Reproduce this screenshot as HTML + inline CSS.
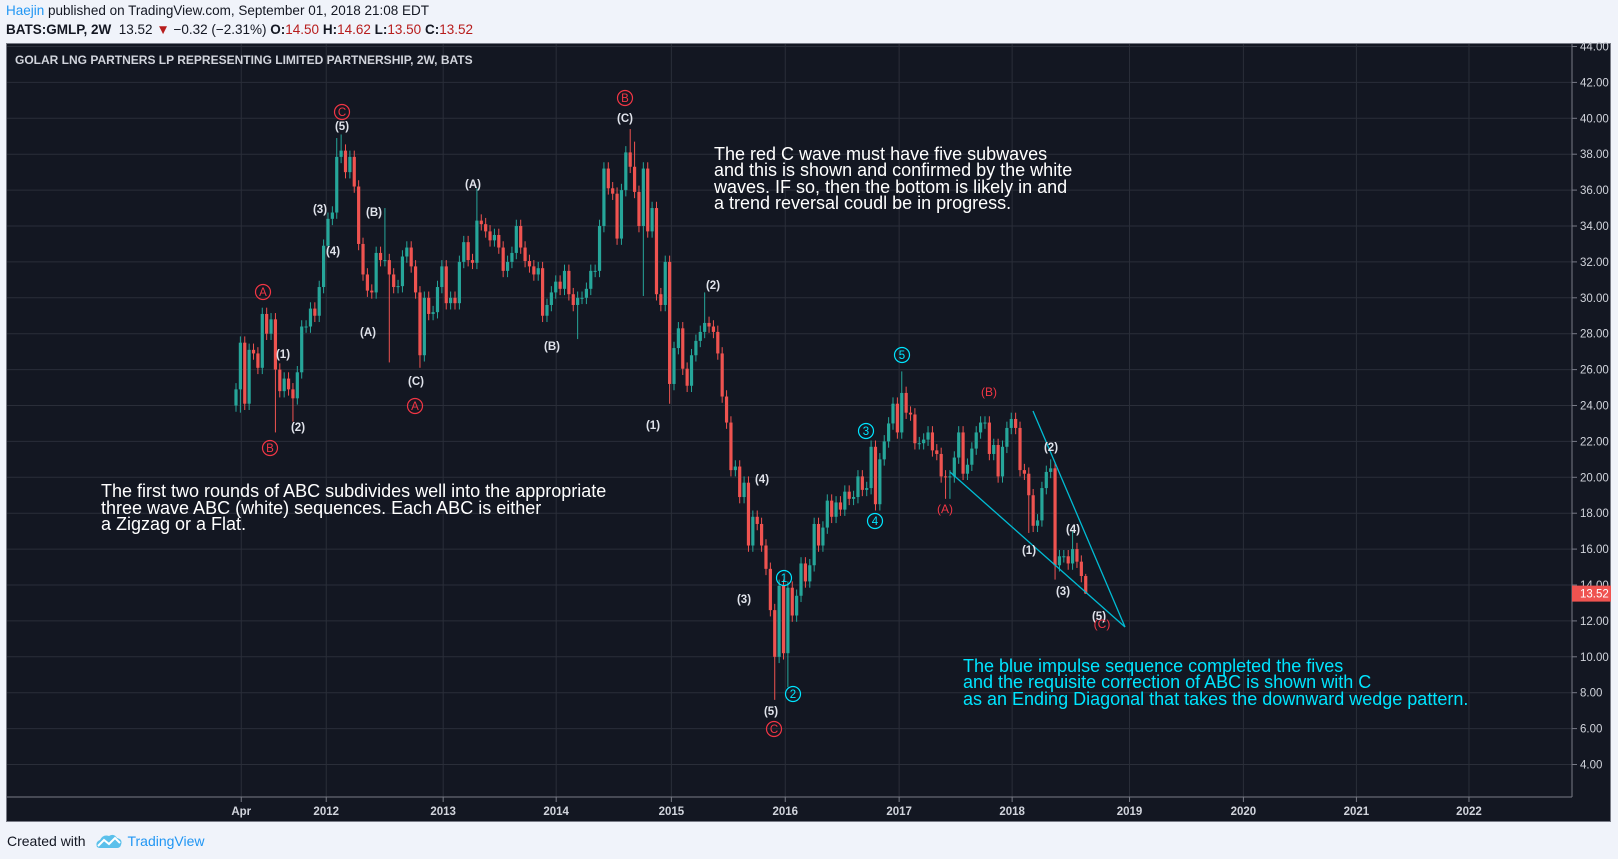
<!DOCTYPE html>
<html><head><meta charset="utf-8">
<style>
html,body{margin:0;padding:0;width:1618px;height:859px;background:#f0f3fa;overflow:hidden;font-family:"Liberation Sans",sans-serif;}
#hdr1{position:absolute;left:6px;top:3px;font-size:13.5px;color:#131722;}
#hdr2{position:absolute;left:6px;top:22px;font-size:13.5px;color:#131722;}
.r{color:#b71c1c}
#frame{position:absolute;left:6px;top:43px;width:1605px;height:779px;background:#131722;border:1px solid #787b86;box-sizing:border-box;}
#foot{position:absolute;left:7px;top:833px;font-size:14px;color:#131722;}
</style></head><body>
<div id="hdr1"><span style="color:#2196f3">Haejin</span> published on TradingView.com, September 01, 2018 21:08 EDT</div>
<div id="hdr2"><b>BATS:GMLP, 2W</b>&nbsp; 13.52 <span class="r">▼</span> −0.32 (−2.31%) <b>O:</b><span class="r">14.50</span> <b>H:</b><span class="r">14.62</span> <b>L:</b><span class="r">13.50</span> <b>C:</b><span class="r">13.52</span></div>
<div id="frame"></div>
<svg id="chart" width="1618" height="859" style="position:absolute;left:0;top:0" xmlns="http://www.w3.org/2000/svg">
<g id="grid"></g>
<line x1="1572" y1="44" x2="1572" y2="797" stroke="#787b86"/>
<line x1="7" y1="797" x2="1572" y2="797" stroke="#787b86"/>
<g id="candles"></g>
<g id="axes" font-family="Liberation Sans, sans-serif" font-size="11.5" fill="#d1d4dc"></g>
<text x="15" y="64" font-size="12" font-weight="bold" fill="#d1d4dc" font-family="Liberation Sans, sans-serif">GOLAR LNG PARTNERS LP REPRESENTING LIMITED PARTNERSHIP, 2W, BATS</text>
<g stroke="#00bcd4" stroke-width="1.3">
<line x1="1033" y1="411" x2="1125" y2="627"/>
<line x1="950" y1="472" x2="1125" y2="627"/>
</g>
<g font-family="Liberation Sans, sans-serif" font-size="11.5" font-weight="bold" fill="#e0e3eb" text-anchor="middle">
<text x="342" y="130">(5)</text><text x="320" y="213">(3)</text><text x="333" y="255">(4)</text>
<text x="374" y="216">(B)</text><text x="368" y="336">(A)</text><text x="416" y="385">(C)</text>
<text x="473" y="188">(A)</text><text x="552" y="350">(B)</text><text x="625" y="122">(C)</text>
<text x="283" y="358">(1)</text><text x="298" y="431">(2)</text>
<text x="653" y="429">(1)</text><text x="713" y="289">(2)</text><text x="762" y="483">(4)</text>
<text x="744" y="603">(3)</text><text x="771" y="715">(5)</text>
<text x="1051" y="451">(2)</text><text x="1029" y="554">(1)</text><text x="1073" y="533">(4)</text>
<text x="1063" y="595">(3)</text><text x="1099" y="620">(5)</text>
</g>
<g font-family="Liberation Sans, sans-serif" font-size="12" text-anchor="middle" fill="#f23645">
<text x="989" y="396">(B)</text><text x="945" y="513">(A)</text><text x="1102" y="628">(C)</text>
</g>
<g font-family="Liberation Sans, sans-serif" font-size="11.5" text-anchor="middle" fill="none" stroke-width="1.2" id="circles"></g>
<g font-family="Liberation Sans, sans-serif" font-size="18" fill="#ffffff">
<text x="714" y="160">The red C wave must have five subwaves</text>
<text x="714" y="176">and this is shown and confirmed by the white</text>
<text x="714" y="193">waves. IF so, then the bottom is likely in and</text>
<text x="714" y="209">a trend reversal coudl be in progress.</text>
</g>
<g font-family="Liberation Sans, sans-serif" font-size="18" fill="#ffffff">
<text x="101" y="497">The first two rounds of ABC subdivides well into the appropriate</text>
<text x="101" y="514">three wave ABC (white) sequences. Each ABC is either</text>
<text x="101" y="530">a Zigzag or a Flat.</text>
</g>
<g font-family="Liberation Sans, sans-serif" font-size="18" fill="#00e5ff">
<text x="963" y="672">The blue impulse sequence completed the fives</text>
<text x="963" y="688">and the requisite correction of ABC is shown with C</text>
<text x="963" y="705">as an Ending Diagonal that takes the downward wedge pattern.</text>
</g>
</svg>
<div id="foot">Created with <svg width="28" height="16" viewBox="0 0 28 16" style="vertical-align:-3px;margin:0 4px 0 6px"><path d="M2 14 Q0 9 5 7 Q8 1 14 3 Q19 0 22 5 Q28 6 26 12 Q25 15 22 15 L4 15Z" fill="#5bc0eb"/><path d="M3 13 L9 7 L14 11 L20 5 L25 10" stroke="#fff" stroke-width="2" fill="none"/></svg><span style="color:#2196f3">TradingView</span></div>
<script>
const closes=[24.9,27.5,24.1,27.1,26.9,26.1,29.1,28.0,28.8,26.0,24.8,25.5,24.9,24.4,25.85,28.4,28.4,29.4,29.0,30.6,
32.9,34.4,34.75,37.85,38.2,37.0,37.85,36.2,33.0,31.3,30.4,30.3,32.5,32.1,32.1,31.3,30.6,30.65,32.3,32.8,
31.75,30.3,26.8,30.0,29.1,29.2,30.6,31.75,29.7,30.0,29.7,32.0,33.1,32.1,31.95,34.3,34.1,33.7,33.2,33.5,
32.8,31.5,32.0,32.5,34.0,32.8,32.05,31.75,31.3,31.65,29.0,29.6,30.3,30.9,30.5,31.5,30.2,29.6,30.0,30.0,
30.5,31.5,31.5,34.0,37.2,36.1,35.8,33.3,36.0,38.1,37.3,35.9,34.0,37.2,33.7,35.0,30.2,29.6,32.0,25.2,
27.2,28.3,26.05,25.1,26.8,27.6,28.1,28.6,28.4,28.1,26.9,24.5,23.05,20.4,20.6,18.9,19.7,16.2,17.8,17.4,
16.2,14.9,12.6,10.0,13.95,10.2,13.85,12.3,13.4,15.2,14.2,15.1,17.4,16.2,17.2,18.7,17.8,18.6,18.2,19.2,
18.8,18.9,20.05,19.3,19.4,21.7,18.5,21.0,22.0,23.0,24.1,22.5,24.7,23.6,23.5,21.9,21.9,22.1,22.5,21.5,
21.3,20.05,20.0,20.05,21.1,22.5,20.2,20.7,21.6,22.5,23.05,23.05,21.3,21.8,20.05,21.7,22.75,23.25,22.75,20.4,
20.2,19.0,17.3,17.6,19.4,20.3,20.5,15.1,15.6,15.6,15.2,16.0,15.3,14.5,13.52];
const firstOpen=24.0;
const highs={23:38.9,24:39.1,34:35.0,55:36.1,90:39.4,91:38.7,107:30.3,152:25.9,186:21.0,191:17.0,194:14.62};
const lows={1:23.6,9:22.5,13:23.1,35:26.4,42:26.1,78:27.7,93:30.1,99:24.1,123:7.6,126:8.3,162:18.8,163:18.8,181:16.9,187:14.3,194:13.5};
const priceTicks=[44,42,40,38,36,34,32,30,28,26,24,22,20,18,16,14,12,10,8,6,4];
const timeLabels=["Apr","2012","2013","2014","2015","2016","2017","2018","2019","2020","2021","2022"];
const timeIdx=[1.2,20.6,47.3,73.1,99.4,125.4,151.4,177.2,204,230,255.8,281.5];
const lastPrice=13.52;
function yS(p){return 118.3+(40-p)*17.95;}
function xS(i){return 236+i*4.38;}
const NS="http://www.w3.org/2000/svg";
function mk(t,a){const e=document.createElementNS(NS,t);for(const k in a)e.setAttribute(k,a[k]);return e;}
const grid=document.getElementById('grid'),axes=document.getElementById('axes'),cg=document.getElementById('candles');
priceTicks.forEach(p=>{
 const l=mk('line',{x1:7,x2:1572,y1:yS(p),y2:yS(p),stroke:'#2a2e39'});
 
 
 grid.appendChild(l);
 const tk=mk('line',{x1:1572,x2:1577,y1:yS(p),y2:yS(p),stroke:'#787b86'});
 
 
 axes.appendChild(tk);
 const t=mk('text',{x:1580,y:yS(p)+4});
 t.textContent=p.toFixed(2);
 
 
 axes.appendChild(t);
});
timeLabels.forEach((s,i)=>{
 const x=xS(timeIdx[i]);
 const l=mk('line',{x1:x,x2:x,y1:44,y2:797,stroke:'#2a2e39'});
 
 
 grid.appendChild(l);
 const tk=mk('line',{x1:x,x2:x,y1:797,y2:802,stroke:'#787b86'});
 
 
 axes.appendChild(tk);
 const t=mk('text',{x:x,y:815,'text-anchor':'middle','font-weight':'bold'});
 t.textContent=s;
 
 
 axes.appendChild(t);
});
closes.forEach((c,i)=>{
 const o=i===0?firstOpen:closes[i-1];
 const up=c>=o;
 const col=up?'#26a69a':'#ef5350';
 const hi=highs[i]!==undefined?highs[i]:Math.max(o,c)+0.35;
 const lo=lows[i]!==undefined?lows[i]:Math.min(o,c)-0.35;
 const x=xS(i);
 const w=mk('line',{x1:x,x2:x,y1:yS(hi),y2:yS(lo),stroke:col,'stroke-width':1});
 
 
 cg.appendChild(w);
 const top=yS(Math.max(o,c)),bot=yS(Math.min(o,c));
 const b=mk('rect',{x:x-1.6,y:top,width:3.2,height:Math.max(1,bot-top),fill:col});
 
 
 cg.appendChild(b);
});
const pl=yS(lastPrice);
const tag=mk('rect',{x:1572,y:pl-8,width:39,height:16,fill:'#ef5350'});


axes.appendChild(tag);
const tt=mk('text',{x:1580,y:pl+4,fill:'#ffffff'});
tt.textContent=lastPrice.toFixed(2);


axes.appendChild(tt);
const circ=[["C",342,112,'#f23645'],["A",263,292,'#f23645'],["B",270,448,'#f23645'],["A",415,406,'#f23645'],["B",625,98,'#f23645'],["C",774,729,'#f23645'],
["1",784,578,'#00e5ff'],["2",793,694,'#00e5ff'],["3",866,431,'#00e5ff'],["4",875,521,'#00e5ff'],["5",902,355,'#00e5ff']];
const cgp=document.getElementById('circles');
circ.forEach(d=>{
 const c=mk('circle',{cx:d[1],cy:d[2],r:7.5,stroke:d[3]});
 
 
 cgp.appendChild(c);
 const t=mk('text',{x:d[1],y:d[2]+4,fill:d[3],stroke:'none'});
 t.textContent=d[0];
 
 
 cgp.appendChild(t);
});
</script>
</body></html>
